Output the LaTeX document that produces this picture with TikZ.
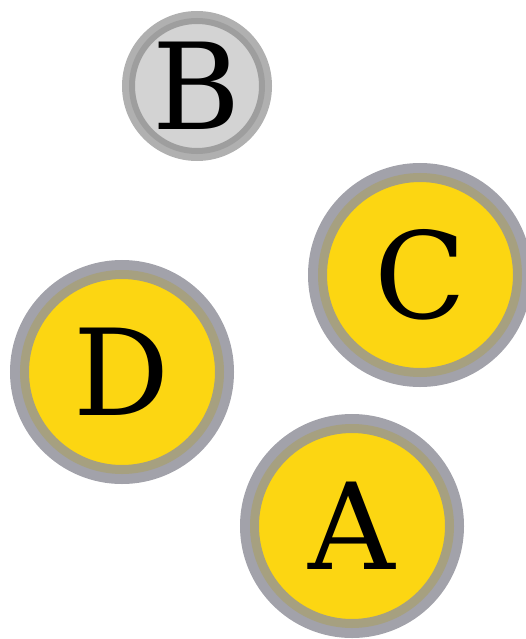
\documentclass[tikz,border=0pt]{standalone}
\usepackage{fontspec}
\setmainfont{DejaVu Serif}
\usepackage{xcolor}
\usepackage{tikz}
\usetikzlibrary{positioning}
\definecolor{coinyellow}{RGB}{252, 214, 18}
\definecolor{ringgray}{RGB}{162, 162, 170}
\definecolor{ringolive}{RGB}{166, 160, 128}
\definecolor{mutedfill}{RGB}{211, 211, 211}
\definecolor{mutedring}{RGB}{176, 176, 176}
\definecolor{mutedinner}{RGB}{158, 158, 158}

\begin{document}
\begin{tikzpicture}[
    x=1pt, y=-1pt,
    coin/.style={circle, fill=coinyellow, draw=ringolive, line width=9pt, minimum size=195pt, inner sep=0pt,
        preaction={draw=ringgray, line width=29pt}, font=\fontsize{120}{126}\selectfont, text=black},
    mutedcoin/.style={circle, fill=mutedfill, draw=mutedinner, line width=6pt, minimum size=130pt, inner sep=0pt,
        preaction={draw=mutedring, line width=20pt}, font=\fontsize{120}{126}\selectfont, text=black}
]
\useasboundingbox (0,0) rectangle (526,639);
\node[mutedcoin] (coinB) at (197,86) {B};
\node[coin] (coinC) at (420,275) {C};
\node[coin] (coinD) at (122,372) {D};
\node[coin] (coinA) at (352,526) {A};
\end{tikzpicture}
\end{document}
